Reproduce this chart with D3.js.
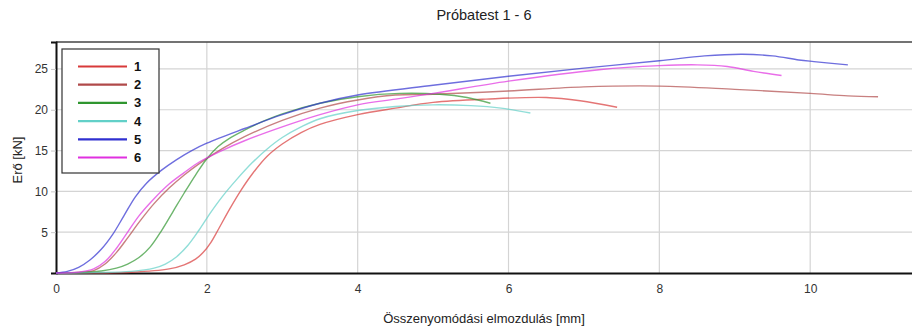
<!DOCTYPE html>
<html>
<head>
<meta charset="utf-8">
<script src="https://cdn.jsdelivr.net/npm/d3@7"></script>
<style>
  body { margin: 0; background: #fff; }
  text { font-family: "Liberation Sans", Arial, sans-serif; }
</style>
</head>
<body>
<svg id="chart" width="912" height="332"></svg>
<script>
// series names and colours
var seriesNames = ["1", "2", "3", "4", "5", "6"];
var seriesColors = ["#d83a3a", "#b04a4a", "#2f962f", "#62d0c8", "#3030d0", "#e030e0"];

// [displacement mm, force kN]
var s1 = [[0,0],[1.0,0.1],[1.5,0.5],[1.7,1.0],[1.85,1.7],[1.95,2.5],[2.05,3.7],[2.15,5.3],[2.3,7.8],[2.45,10.1],[2.6,12.1],[2.8,14.3],[3.0,15.8],[3.25,17.2],[3.5,18.2],[4.0,19.4],[4.5,20.2],[5.0,20.9],[5.7,21.3],[6.5,21.5],[6.95,21.1],[7.44,20.3]];
var s2 = [[0,0],[0.35,0.1],[0.5,0.3],[0.65,1.1],[0.8,2.5],[0.95,4.3],[1.1,6.2],[1.3,8.5],[1.5,10.4],[1.7,12.0],[1.9,13.4],[2.2,15.2],[2.5,16.7],[3.0,18.7],[3.5,20.2],[4.0,21.2],[4.5,21.8],[5.0,21.9],[6.0,22.3],[7.0,22.8],[8.0,22.9],[9.0,22.5],[10.0,22.0],[10.5,21.7],[10.9,21.6]];
var s3 = [[0,0],[0.4,0.1],[0.6,0.25],[0.8,0.6],[0.95,1.1],[1.1,1.9],[1.25,3.2],[1.4,5.2],[1.55,7.5],[1.7,9.8],[1.85,12.0],[2.0,14.0],[2.15,15.5],[2.3,16.5],[2.5,17.5],[2.75,18.6],[3.0,19.5],[3.5,20.8],[4.0,21.6],[4.56,22.0],[5.09,21.9],[5.45,21.5],[5.76,20.8]];
var s4 = [[0,0],[0.5,0.05],[1.0,0.2],[1.3,0.6],[1.45,1.1],[1.6,2.0],[1.75,3.4],[1.9,5.3],[2.05,7.4],[2.2,9.3],[2.4,11.5],[2.6,13.5],[2.8,15.2],[3.0,16.6],[3.25,17.9],[3.5,18.9],[4.0,19.9],[4.5,20.4],[5.0,20.6],[5.5,20.5],[5.9,20.2],[6.29,19.6]];
var s5 = [[0,0],[0.15,0.2],[0.3,0.7],[0.45,1.6],[0.6,2.9],[0.75,4.7],[0.9,7.0],[1.05,9.3],[1.2,11.0],[1.4,12.6],[1.6,13.9],[1.8,15.0],[2.0,15.9],[2.5,17.7],[3.0,19.4],[3.5,20.8],[4.0,21.8],[5.0,23.0],[6.0,24.1],[7.0,25.1],[8.0,26.0],[8.6,26.6],[9.1,26.8],[9.5,26.6],[9.85,26.1],[10.05,25.9],[10.5,25.5]];
var s6 = [[0,0],[0.3,0.1],[0.5,0.5],[0.65,1.4],[0.8,3.0],[0.95,5.0],[1.1,7.0],[1.3,9.1],[1.5,10.9],[1.7,12.3],[1.9,13.6],[2.2,15.0],[2.5,16.2],[3.0,17.9],[3.5,19.4],[4.0,20.6],[4.5,21.3],[5.0,22.0],[6.0,23.5],[7.2,24.9],[8.0,25.4],[8.5,25.5],[8.9,25.3],[9.25,24.7],[9.62,24.2]];
var allSeries = [s1, s2, s3, s4, s5, s6];

var xTicks = [0, 2, 4, 6, 8, 10];
var yTicks = [5, 10, 15, 20, 25];

var svg = d3.select("#chart");

var x = d3.scaleLinear().domain([0, 11.35]).range([56, 912]);
var y = d3.scaleLinear().domain([0, 28.3]).range([273, 42]);

// grid
svg.append("g")
  .selectAll("line")
  .data(xTicks.slice(1))
  .join("line")
  .attr("x1", function (d) { return x(d); })
  .attr("x2", function (d) { return x(d); })
  .attr("y1", y(28.3))
  .attr("y2", y(0))
  .attr("stroke", "#d4d4d4")
  .attr("stroke-width", 1.2);

svg.append("g")
  .selectAll("line")
  .data(yTicks)
  .join("line")
  .attr("x1", x(0))
  .attr("x2", 912)
  .attr("y1", function (d) { return y(d); })
  .attr("y2", function (d) { return y(d); })
  .attr("stroke", "#d4d4d4")
  .attr("stroke-width", 1.2);

// top border
svg.append("line")
  .attr("x1", x(0)).attr("x2", 912)
  .attr("y1", y(28.3)).attr("y2", y(28.3))
  .attr("stroke", "#444").attr("stroke-width", 1.5);

// axes
var xAxis = svg.append("g")
  .attr("transform", "translate(0," + y(0) + ")")
  .call(d3.axisBottom(x).tickValues(xTicks).tickSize(0).tickPadding(11));
var yAxis = svg.append("g")
  .attr("transform", "translate(" + x(0) + ",0)")
  .call(d3.axisLeft(y).tickValues(yTicks).tickSize(5).tickPadding(4));

[xAxis, yAxis].forEach(function (a) {
  a.select(".domain").attr("stroke", "#111").attr("stroke-width", 2);
  a.selectAll(".tick line").attr("stroke", "#c8c8c8");
  a.selectAll("text").attr("font-size", 12).attr("fill", "#333")
    .style("font-family", "'Liberation Sans', Arial, sans-serif");
});
yAxis.selectAll(".tick text").attr("x", -8);

// lines
var line = d3.line()
  .x(function (d) { return x(d[0]); })
  .y(function (d) { return y(d[1]); })
  .curve(d3.curveCatmullRom.alpha(0.5));

svg.append("g")
  .selectAll("path")
  .data(allSeries)
  .join("path")
  .attr("d", line)
  .attr("fill", "none")
  .attr("stroke", function (d, i) { return seriesColors[i]; })
  .attr("stroke-width", 1.4)
  .attr("stroke-opacity", 0.7);

// legend
var lg = svg.append("g");
lg.append("rect")
  .attr("x", 62).attr("y", 49)
  .attr("width", 97).attr("height", 124)
  .attr("fill", "#fff")
  .attr("stroke", "#333").attr("stroke-width", 1.2);

var rows = lg.selectAll("g")
  .data(seriesNames)
  .join("g")
  .attr("transform", function (d, i) { return "translate(0," + (66.5 + i * 18.2) + ")"; });
rows.append("line")
  .attr("x1", 78).attr("x2", 127)
  .attr("stroke", function (d, i) { return seriesColors[i]; })
  .attr("stroke-width", 2.2);
rows.append("text")
  .attr("x", 134).attr("y", 4.5)
  .attr("font-size", 13).attr("font-weight", "bold")
  .attr("fill", "#111")
  .text(function (d) { return d; });

// titles
svg.append("text")
  .attr("x", 484).attr("y", 20)
  .attr("text-anchor", "middle")
  .attr("font-size", 14.5).attr("fill", "#222")
  .text("Próbatest 1 - 6");

svg.append("text")
  .attr("x", 484).attr("y", 323)
  .attr("text-anchor", "middle")
  .attr("font-size", 13).attr("fill", "#222")
  .text("Összenyomódási elmozdulás [mm]");

svg.append("text")
  .attr("transform", "translate(22,160) rotate(-90)")
  .attr("text-anchor", "middle")
  .attr("font-size", 13).attr("fill", "#222")
  .text("Erő [kN]");
</script>
</body>
</html>
